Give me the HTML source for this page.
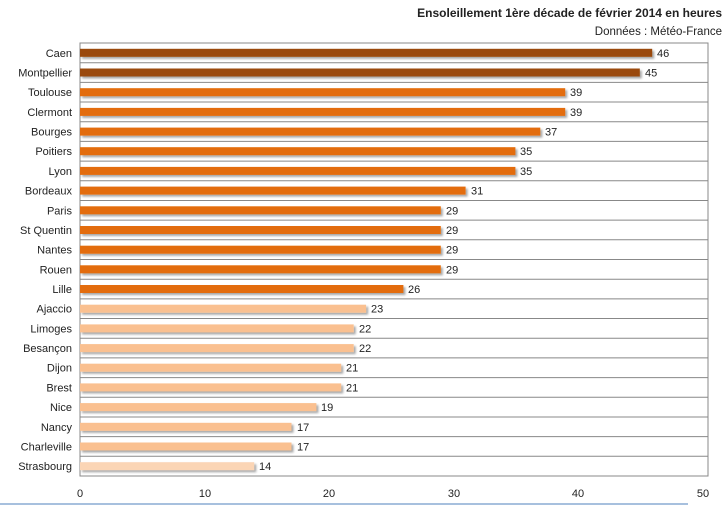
<!DOCTYPE html><html><head><meta charset="utf-8"><style>
body{margin:0;background:#fff;font-family:"Liberation Sans",sans-serif;}
</style></head><body>
<svg width="727" height="506" xmlns="http://www.w3.org/2000/svg" font-family="Liberation Sans, sans-serif">
<defs><filter id="s" x="-5%" y="-50%" width="110%" height="250%"><feDropShadow dx="2" dy="2" stdDeviation="1" flood-color="#000" flood-opacity="0.35"/></filter></defs>
<text x="722" y="17" text-anchor="end" font-size="12" font-weight="bold" fill="#222">Ensoleillement 1ère décade de février 2014 en heures</text>
<text x="722" y="35" text-anchor="end" font-size="11.5" fill="#222">Données : Météo-France</text>
<rect x="80" y="43" width="628" height="433" fill="none" stroke="#888"/>
<g stroke="#888">
<line x1="80" x2="708" y1="62.7" y2="62.7"/><line x1="80" x2="708" y1="82.4" y2="82.4"/><line x1="80" x2="708" y1="102.0" y2="102.0"/><line x1="80" x2="708" y1="121.7" y2="121.7"/><line x1="80" x2="708" y1="141.4" y2="141.4"/><line x1="80" x2="708" y1="161.1" y2="161.1"/><line x1="80" x2="708" y1="180.8" y2="180.8"/><line x1="80" x2="708" y1="200.5" y2="200.5"/><line x1="80" x2="708" y1="220.1" y2="220.1"/><line x1="80" x2="708" y1="239.8" y2="239.8"/><line x1="80" x2="708" y1="259.5" y2="259.5"/><line x1="80" x2="708" y1="279.2" y2="279.2"/><line x1="80" x2="708" y1="298.9" y2="298.9"/><line x1="80" x2="708" y1="318.5" y2="318.5"/><line x1="80" x2="708" y1="338.2" y2="338.2"/><line x1="80" x2="708" y1="357.9" y2="357.9"/><line x1="80" x2="708" y1="377.6" y2="377.6"/><line x1="80" x2="708" y1="397.3" y2="397.3"/><line x1="80" x2="708" y1="417.0" y2="417.0"/><line x1="80" x2="708" y1="436.6" y2="436.6"/><line x1="80" x2="708" y1="456.3" y2="456.3"/>
</g>
<g filter="url(#s)">
<rect x="80" y="48.8" width="572.2" height="8" fill="#9a4a0b"/>
<rect x="80" y="68.5" width="559.8" height="8" fill="#9a4a0b"/>
<rect x="80" y="88.2" width="485.2" height="8" fill="#e36c0a"/>
<rect x="80" y="107.9" width="485.2" height="8" fill="#e36c0a"/>
<rect x="80" y="127.6" width="460.3" height="8" fill="#e36c0a"/>
<rect x="80" y="147.2" width="435.4" height="8" fill="#e36c0a"/>
<rect x="80" y="166.9" width="435.4" height="8" fill="#e36c0a"/>
<rect x="80" y="186.6" width="385.6" height="8" fill="#e36c0a"/>
<rect x="80" y="206.3" width="360.8" height="8" fill="#e36c0a"/>
<rect x="80" y="226.0" width="360.8" height="8" fill="#e36c0a"/>
<rect x="80" y="245.7" width="360.8" height="8" fill="#e36c0a"/>
<rect x="80" y="265.3" width="360.8" height="8" fill="#e36c0a"/>
<rect x="80" y="285.0" width="323.4" height="8" fill="#e36c0a"/>
<rect x="80" y="304.7" width="286.1" height="8" fill="#fac090"/>
<rect x="80" y="324.4" width="273.7" height="8" fill="#fac090"/>
<rect x="80" y="344.1" width="273.7" height="8" fill="#fac090"/>
<rect x="80" y="363.7" width="261.2" height="8" fill="#fac090"/>
<rect x="80" y="383.4" width="261.2" height="8" fill="#fac090"/>
<rect x="80" y="403.1" width="236.4" height="8" fill="#fac090"/>
<rect x="80" y="422.8" width="211.5" height="8" fill="#fac090"/>
<rect x="80" y="442.5" width="211.5" height="8" fill="#fac090"/>
<rect x="80" y="462.2" width="174.2" height="8" fill="#fbd5b5"/>
</g>
<g font-size="11" fill="#222" text-anchor="end">
<text x="72" y="56.8">Caen</text><text x="72" y="76.5">Montpellier</text><text x="72" y="96.2">Toulouse</text><text x="72" y="115.9">Clermont</text><text x="72" y="135.6">Bourges</text><text x="72" y="155.2">Poitiers</text><text x="72" y="174.9">Lyon</text><text x="72" y="194.6">Bordeaux</text><text x="72" y="214.3">Paris</text><text x="72" y="234.0">St Quentin</text><text x="72" y="253.7">Nantes</text><text x="72" y="273.3">Rouen</text><text x="72" y="293.0">Lille</text><text x="72" y="312.7">Ajaccio</text><text x="72" y="332.4">Limoges</text><text x="72" y="352.1">Besançon</text><text x="72" y="371.7">Dijon</text><text x="72" y="391.4">Brest</text><text x="72" y="411.1">Nice</text><text x="72" y="430.8">Nancy</text><text x="72" y="450.5">Charleville</text><text x="72" y="470.2">Strasbourg</text>
</g>
<g font-size="11" fill="#222">
<text x="657" y="56.8">46</text><text x="645" y="76.5">45</text><text x="570" y="96.2">39</text><text x="570" y="115.9">39</text><text x="545" y="135.6">37</text><text x="520" y="155.2">35</text><text x="520" y="174.9">35</text><text x="471" y="194.6">31</text><text x="446" y="214.3">29</text><text x="446" y="234.0">29</text><text x="446" y="253.7">29</text><text x="446" y="273.3">29</text><text x="408" y="293.0">26</text><text x="371" y="312.7">23</text><text x="359" y="332.4">22</text><text x="359" y="352.1">22</text><text x="346" y="371.7">21</text><text x="346" y="391.4">21</text><text x="321" y="411.1">19</text><text x="297" y="430.8">17</text><text x="297" y="450.5">17</text><text x="259" y="470.2">14</text>
</g>
<line x1="0" y1="504" x2="688" y2="504" stroke="#4f81bd" stroke-width="1"/>
<g font-size="11" fill="#222" text-anchor="middle">
<text x="80" y="497">0</text><text x="205" y="497">10</text><text x="329" y="497">20</text><text x="454" y="497">30</text><text x="578" y="497">40</text><text x="703" y="497">50</text>
</g>
</svg></body></html>
